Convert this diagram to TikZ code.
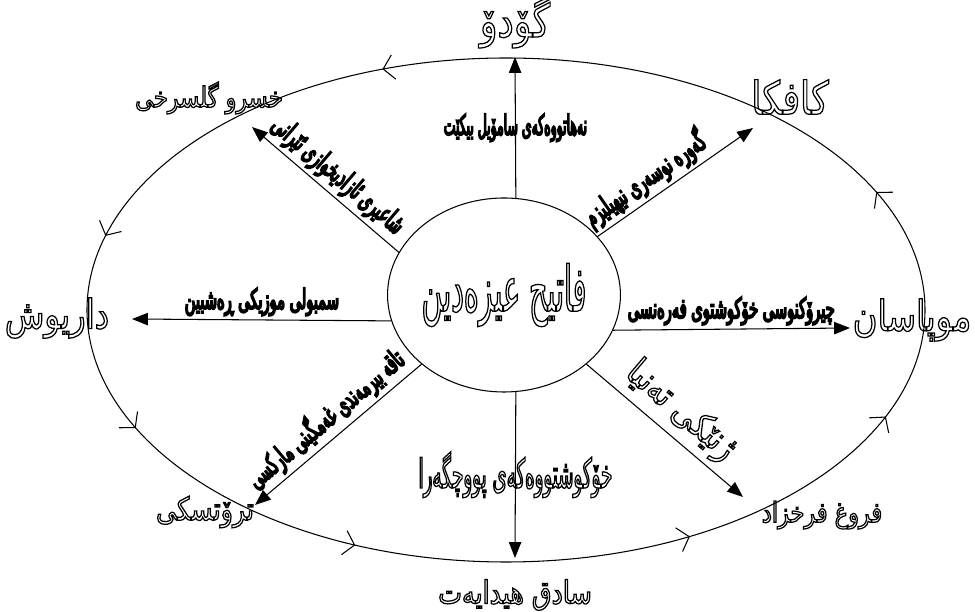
\documentclass[tikz,border=0pt]{standalone}
\usepackage{fontspec}
\usetikzlibrary{shapes.geometric,arrows.meta,decorations.markings}
\TeXXeTstate=1
\newfontfamily\kunames[Script=Arabic,FakeStretch=0.8]{DejaVu Sans}
\newfontfamily\kucenter[Script=Arabic,FakeStretch=0.45]{DejaVu Sans}
\newfontfamily\kulabels[Script=Arabic,FakeStretch=0.52]{DejaVu Sans}
% heavy letters for the arrow texts, hollow letters for the names
\newcommand\ku[1]{\special{pdf:literal direct 2 Tr 0.9 w}\beginR #1\endR\special{pdf:literal direct 0 Tr}}
\newcommand\hollow[1]{\special{pdf:literal direct 1 Tr 0.7 w}\beginR #1\endR\special{pdf:literal direct 0 Tr}}
\newcommand\barbtip{\arrow{Straight Barb[length=6pt,width=14pt]}}

\begin{document}
\begin{tikzpicture}
  [>={Triangle[length=9pt,width=7pt]},line width=0.6pt,
   writer/.style={font=\kunames\fontsize{20}{20}\selectfont,inner sep=0pt},
   lbl/.style={font=\kulabels\fontsize{16}{16}\selectfont,inner sep=2pt},
   hub/.style={ellipse,draw,minimum width=4.32cm,minimum height=3.88cm,inner sep=0pt,outer sep=0pt,
     font=\kucenter\fontsize{36}{36}\selectfont}]
  \useasboundingbox (0,0) rectangle (19.5,12.24);

  % the orbit with its open arrow marks
  \draw[postaction={decorate},decoration={markings,
      mark=at position 0.061 with {\barbtip},
      mark=at position 0.308 with {\barbtip},
      mark=at position 0.464 with {\barbtip},
      mark=at position 0.561 with {\barbtip},
      mark=at position 0.679 with {\barbtip},
      mark=at position 0.837 with {\barbtip},
      mark=at position 0.946 with {\barbtip}}]
    (10.12,6.04) ellipse [x radius=8.38,y radius=5.04];

  \node[hub] (c) at (10.08,6.34) {\hollow{فاتیح عیزەدین}};

  \node[writer,font=\kunames\fontsize{26}{26}\selectfont] (gd) at (10.3,11.8) {\hollow{گۆدۆ}};
  \node[writer,font=\kunames\fontsize{26}{26}\selectfont] (kf) at (15.8,10.3) {\hollow{کافکا}};
  \node[writer,font=\kunames\fontsize{24}{24}\selectfont] (mp) at (18.24,5.84) {\hollow{موپاسان}};
  \node[writer,font=\kunames\fontsize{16}{16}\selectfont] (ff) at (16.44,1.94) {\hollow{فروغ فرخزاد}};
  \node[writer,font=\kunames\fontsize{18}{18}\selectfont] (sh) at (10.3,0.34) {\hollow{سادق هیدایەت}};
  \node[writer,font=\kunames\fontsize{18}{18}\selectfont] (tr) at (4.1,2.0) {\hollow{ترۆتسکی}};
  \node[writer,font=\kunames\fontsize{23}{23}\selectfont] (dr) at (1.14,5.88) {\hollow{داریوش}};
  \node[writer,font=\kunames\fontsize{16}{16}\selectfont] (km) at (4.18,10.28) {\hollow{خسرو گلسرخی}};

  \coordinate (tn) at (10.3,11.1);
  \coordinate (tne) at (15.06,9.68);
  \coordinate (te) at (17.0,5.68);
  \coordinate (tse) at (14.86,2.3);
  \coordinate (ts) at (10.3,1.08);
  \coordinate (tsw) at (5.1,2.14);
  \coordinate (tw) at (2.64,5.86);
  \coordinate (tnw) at (5.04,9.7);

  \draw[->] (c.83.5) -- (tn) node[lbl,midway] {\scalebox{0.85}[1]{\ku{نەهاتووەکەی سامۆیل بیکێت}}};
  \draw[->] (c.32) -- (tne) node[lbl,pos=0.38,sloped,above] {\ku{گەورە نوسەری نیهیلیزم}};
  \draw[->] (c.-18) -- (te) node[lbl,midway,above] {\ku{چیرۆکنوسی خۆکوشتوی فەرەنسی}};
  \draw[->] (c.-40) -- (tse) node[midway,sloped,above,font=\kunames\fontsize{21}{21}\selectfont] {\hollow{ژنێکی تەنیا}};
  \draw[->] (c.-83.5) -- (ts) node[midway,font=\kucenter\fontsize{23}{23}\selectfont] {\hollow{خۆکوشتووەکەی پووچگەرا}};
  \draw[->] (c.220) -- (tsw) node[lbl,midway,sloped,above] {\ku{تاقە بیرمەندی غەمگینی مارکسی}};
  \draw[->] (c.193) -- (tw) node[lbl,midway,above] {\ku{سمبولی موزیکی ڕەشبین}};
  \draw[->] (c.158) -- (tnw) node[lbl,midway,sloped,above] {\ku{شاعیری ئازادیخوازی ئێرانی}};

\end{tikzpicture}
\end{document}
